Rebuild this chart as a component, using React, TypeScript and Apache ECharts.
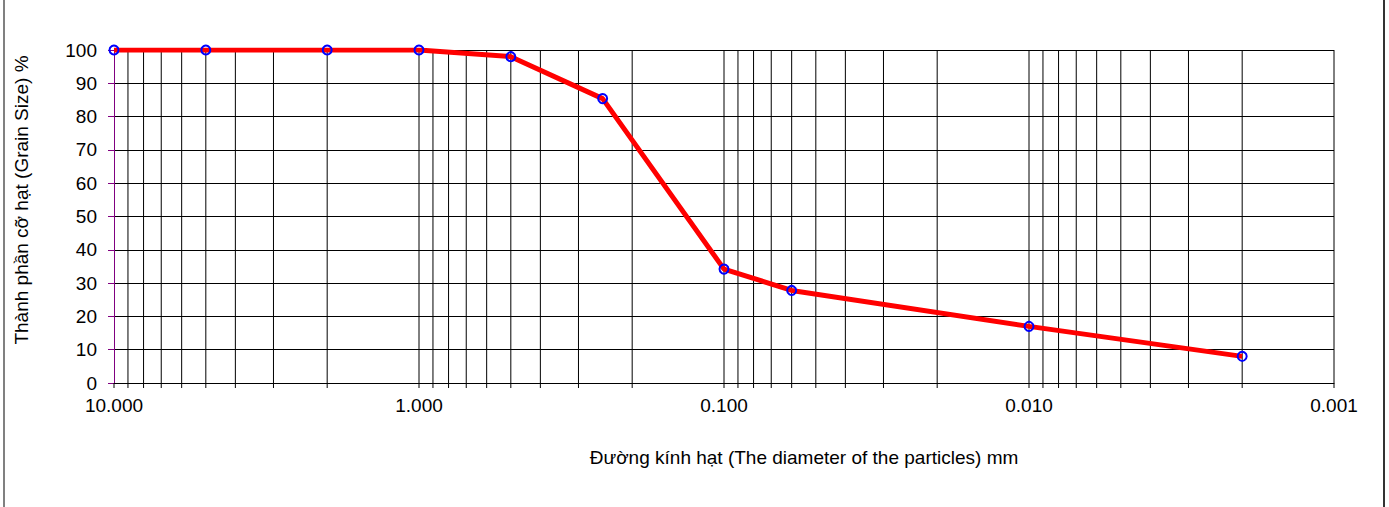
import React, { useEffect, useRef } from "react";
import * as echarts from "echarts";

const diameters = [10, 5, 2, 1, 0.5, 0.25, 0.1, 0.06, 0.01, 0.002];
const passing = [100, 100, 100, 100, 98, 85.4, 34.2, 27.8, 17, 8];
const decades = [0.001, 0.01, 0.1, 1];
const multipliers = [1, 2, 3, 4, 5, 6, 7, 8, 9];
const yTitle = "Thành phần cỡ hạt (Grain Size) %";
const xTitle = "Đường kính hạt (The diameter of the particles) mm";

const gridValues: number[] = [];
decades.forEach((d) => multipliers.forEach((m) => gridValues.push(+(d * m).toPrecision(3))));
gridValues.push(10);

export default function App() {
  const ref = useRef<HTMLDivElement>(null);
  useEffect(() => {
    if (!ref.current) return;
    const chart = echarts.init(ref.current, null, { renderer: "svg" });
    const font = "'Liberation Sans', Arial, sans-serif";
    chart.setOption({
      animation: false,
      backgroundColor: "#fff",
      grid: { left: 114, right: 55, top: 50, bottom: 124 },
      xAxis: {
        type: "log",
        logBase: 10,
        min: 0.001,
        max: 10,
        inverse: true,
        axisLine: { show: true, lineStyle: { color: "#000", width: 1 } },
        axisTick: { show: false },
        splitLine: { show: false },
        minorTick: { show: false },
        axisLabel: {
          color: "#000",
          fontSize: 19,
          fontFamily: font,
          margin: 13,
          formatter: (v: number) => v.toFixed(3),
        },
      },
      yAxis: {
        type: "value",
        min: 0,
        max: 100,
        interval: 10,
        axisLine: { show: true, lineStyle: { color: "#800080", width: 1 } },
        axisTick: { show: true, length: 6, lineStyle: { color: "#800080" } },
        splitLine: { show: true, lineStyle: { color: "#000", width: 1 } },
        axisLabel: { color: "#000", fontSize: 19, fontFamily: font, margin: 17 },
      },
      graphic: [
        { type: "line", shape: { x1: 4, y1: 0, x2: 4, y2: 507 }, style: { stroke: "#808080", lineWidth: 2 } },
        { type: "line", shape: { x1: 1384, y1: 0, x2: 1384, y2: 507 }, style: { stroke: "#333", lineWidth: 2 } },
        {
          type: "text",
          x: 21,
          y: 200,
          rotation: Math.PI / 2,
          style: {
            text: yTitle,
            fill: "#000",
            font: `19px ${font}`,
            align: "center",
            verticalAlign: "middle",
          },
        },
        {
          type: "text",
          x: 804,
          y: 457,
          style: {
            text: xTitle,
            fill: "#000",
            font: `19px 'Liberation Sans Narrow', 'Liberation Sans', Arial, sans-serif`,
            align: "center",
            verticalAlign: "middle",
          },
        },
      ],
      series: [
        {
          type: "custom",
          z: 1,
          silent: true,
          clip: false,
          data: gridValues.map((v) => [v, 0]),
          renderItem: (params: any, api: any) => {
            const v = api.value(0);
            const top = api.coord([v, 100]);
            const bot = api.coord([v, 0]);
            const isLeft = Math.abs(v - 10) < 1e-9;
            return {
              type: "line",
              shape: { x1: top[0], y1: isLeft ? bot[1] : top[1], x2: bot[0], y2: bot[1] + 5 },
              style: { stroke: "#000", lineWidth: 1 },
            };
          },
        },
        {
          type: "line",
          z: 5,
          data: diameters.map((d, i) => [d, passing[i]]),
          lineStyle: { color: "#ff0000", width: 5 },
          symbol: "circle",
          symbolSize: 9,
          itemStyle: { color: "rgba(0,0,0,0)", borderColor: "#0000ff", borderWidth: 2 },
        },
      ],
    });
    return () => chart.dispose();
  }, []);
  return <div ref={ref} style={{ position: "fixed", left: 0, top: 0, width: 1389, height: 507 }} />;
}
